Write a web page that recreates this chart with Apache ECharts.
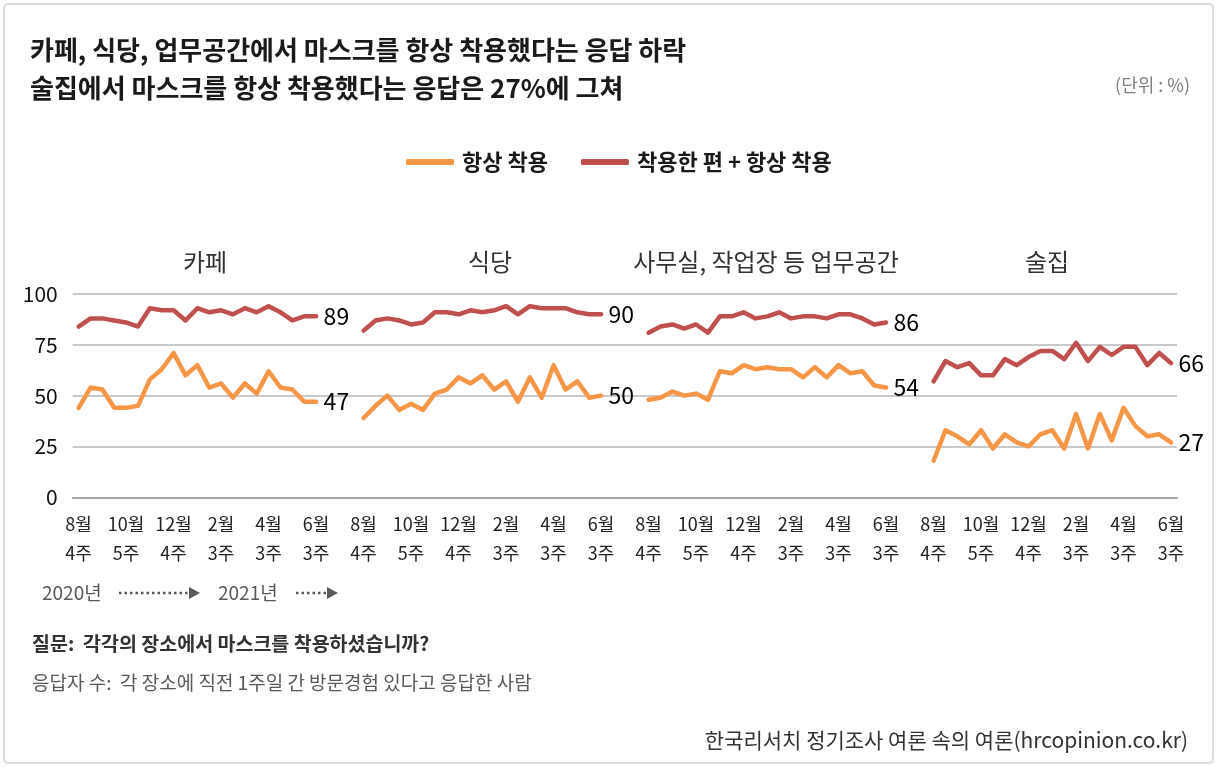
<!DOCTYPE html>
<html>
<head>
<meta charset="utf-8">
<script src="https://cdn.jsdelivr.net/npm/echarts@6/dist/echarts.min.js"></script>
<style>
html,body{margin:0;padding:0;background:#fff;}
#chart{width:1217px;height:767px;}
</style>
</head>
<body>
<div id="chart"></div>
<script>
// ---- data ----
const panelNames = ['카페', '식당', '사무실, 작업장 등 업무공간', '술집'];
const seriesNames = ['항상 착용', '착용한 편 + 항상 착용'];
const tickLabels = ['8월\n4주', '10월\n5주', '12월\n4주', '2월\n3주', '4월\n3주', '6월\n3주'];
const yTicks = [0, 25, 50, 75, 100];

const cafeAlways   = [44,54,53,44,44,45,58,63,71,60,65,54,56,49,56,51,62,54,53,47,47];
const cafeAny      = [84,88,88,87,86,84,93,92,92,87,93,91,92,90,93,91,94,91,87,89,89];
const restAlways   = [39,45,50,43,46,43,51,53,59,56,60,53,57,47,59,49,65,53,57,49,50];
const restAny      = [82,87,88,87,85,86,91,91,90,92,91,92,94,90,94,93,93,93,91,90,90];
const officeAlways = [48,49,52,50,51,48,62,61,65,63,64,63,63,59,64,59,65,61,62,55,54];
const officeAny    = [81,84,85,83,85,81,89,89,91,88,89,91,88,89,89,88,90,90,88,85,86];
const barAlways    = [18,33,30,26,33,24,31,27,25,31,33,24,41,24,41,28,44,35,30,31,27];
const barAny       = [57,67,64,66,60,60,68,65,69,72,72,68,76,67,74,70,74,74,65,71,66];

const alwaysPanels = [cafeAlways, restAlways, officeAlways, barAlways];
const anyPanels = [cafeAny, restAny, officeAny, barAny];

// ---- build combined axis (panels separated by empty slots) ----
const GAP = 3;
const PER = cafeAlways.length;
const categories = [];
const endIdx = [];
function joinPanels(panels) {
  const out = [];
  panels.forEach((arr, p) => {
    arr.forEach(v => out.push(v));
    if (p < panels.length - 1) for (let g = 0; g < GAP; g++) out.push(null);
  });
  return out;
}
panelNames.forEach((name, p) => {
  for (let i = 0; i < PER; i++) categories.push(name + '-' + i);
  endIdx.push(categories.length - 1);
  if (p < panelNames.length - 1) for (let g = 0; g < GAP; g++) categories.push('gap-' + p + '-' + g);
});
const alwaysData = joinPanels(alwaysPanels);
const anyData = joinPanels(anyPanels);

const FONT = "'Noto Sans CJK KR', 'Noto Sans', sans-serif";
const ORANGE = '#f79646';
const RED = '#c0504d';

const chart = echarts.init(document.getElementById('chart'), null, {renderer: 'canvas'});

function txt(x, y, text, size, fill, weight, align) {
  return {
    type: 'text', x: x, y: y, silent: true,
    style: {
      text: text, fontSize: size, fontFamily: FONT, fontWeight: weight || 'normal',
      fill: fill, textAlign: align || 'left', align: align || 'left',
      textVerticalAlign: 'middle', verticalAlign: 'middle'
    }
  };
}

const panelTitleX = [205, 490, 766, 1047];

const graphics = [
  {type: 'rect', shape: {x: 4, y: 4, width: 1209, height: 759, r: 4}, style: {fill: 'none', stroke: '#dcdcdc', lineWidth: 2}, silent: true},
  txt(30, 50, '카페, 식당, 업무공간에서 마스크를 항상 착용했다는 응답 하락', 26, '#1a1a1a', 'bold'),
  txt(30, 88, '술집에서 마스크를 항상 착용했다는 응답은 27%에 그쳐', 26, '#1a1a1a', 'bold'),
  txt(1190, 85, '(단위 : %)', 18, '#7f7f7f', 'normal', 'right'),
  txt(42, 593, '2020년', 19, '#595959'),
  {type: 'line', shape: {x1: 119, y1: 593, x2: 190, y2: 593}, style: {stroke: '#595959', lineWidth: 2.5, lineDash: [2.5, 3]}, silent: true},
  {type: 'polygon', shape: {points: [[189, 587], [200, 593], [189, 599]]}, style: {fill: '#595959'}, silent: true},
  txt(218, 593, '2021년', 19, '#595959'),
  {type: 'line', shape: {x1: 296, y1: 593, x2: 328, y2: 593}, style: {stroke: '#595959', lineWidth: 2.5, lineDash: [2.5, 3]}, silent: true},
  {type: 'polygon', shape: {points: [[327, 587], [338, 593], [327, 599]]}, style: {fill: '#595959'}, silent: true},
  txt(32, 644, '질문:  각각의 장소에서 마스크를 착용하셨습니까?', 19.5, '#333333', 'bold'),
  txt(32, 683, '응답자 수:  각 장소에 직전 1주일 간 방문경험 있다고 응답한 사람', 19, '#595959'),
  txt(1188, 740, '한국리서치 정기조사 여론 속의 여론(hrcopinion.co.kr)', 21, '#333333', 'normal', 'right')
];
panelNames.forEach((n, p) => graphics.push(txt(panelTitleX[p], 262, n, 24, '#333333', 'normal', 'center')));

function endLabel() {
  return {
    show: true, position: 'right', distance: 7,
    fontSize: 23, fontFamily: FONT, color: '#000',
    formatter: p => endIdx.includes(p.dataIndex) ? String(p.value) : ''
  };
}

chart.setOption({
  animation: false,
  backgroundColor: '#fff',
  textStyle: {fontFamily: FONT},
  legend: {
    left: 401, top: 146,
    icon: 'roundRect', itemWidth: 48, itemHeight: 6, itemGap: 33,
    textStyle: {fontSize: 22, color: '#1a1a1a', fontWeight: 'bold', fontFamily: FONT, padding: [0, 0, 0, 3]},
    data: seriesNames
  },
  grid: {left: 72.7, right: 40, top: 294, height: 203.3, containLabel: false},
  xAxis: {
    type: 'category', data: categories, boundaryGap: true,
    axisLine: {show: true, lineStyle: {color: '#a6a6a6', width: 2}},
    axisTick: {show: false},
    axisLabel: {
      interval: 3, margin: 12, fontSize: 18, lineHeight: 29, color: '#222', fontFamily: FONT,
      formatter: (v, i) => tickLabels[(i % (PER + GAP)) / 4] || ''
    },
    splitLine: {show: false}
  },
  yAxis: {
    type: 'value', min: yTicks[0], max: yTicks[yTicks.length - 1], interval: 25,
    axisLine: {show: false}, axisTick: {show: false},
    axisLabel: {fontSize: 21, color: '#111', margin: 15, fontFamily: FONT},
    splitLine: {lineStyle: {color: '#c9c9c9', width: 2}}
  },
  series: [
    {name: seriesNames[0], type: 'line', data: alwaysData, symbol: 'circle', symbolSize: 1, showSymbol: true, connectNulls: false,
     lineStyle: {color: ORANGE, width: 4.5, join: 'round', cap: 'round'}, itemStyle: {color: ORANGE}, label: endLabel(), z: 3},
    {name: seriesNames[1], type: 'line', data: anyData, symbol: 'circle', symbolSize: 1, showSymbol: true, connectNulls: false,
     lineStyle: {color: RED, width: 4.5, join: 'round', cap: 'round'}, itemStyle: {color: RED}, label: endLabel(), z: 3}
  ],
  graphic: graphics
});
</script>
</body>
</html>
